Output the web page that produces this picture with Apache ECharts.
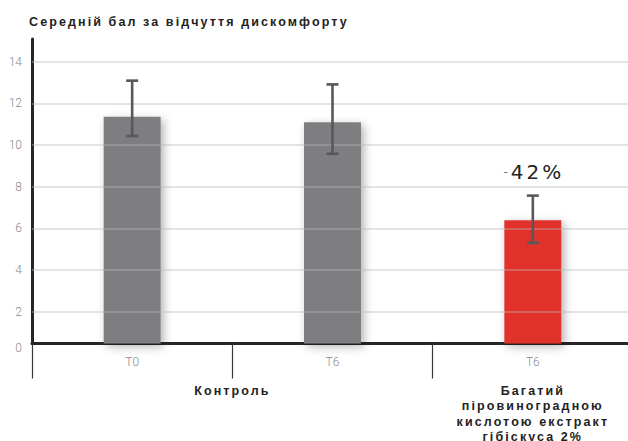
<!DOCTYPE html>
<html>
<head>
<meta charset="utf-8">
<script src="https://cdn.jsdelivr.net/npm/echarts@6/dist/echarts.min.js"></script>
<style>
  html, body { margin: 0; padding: 0; background: #fff; }
  #chart { width: 628px; height: 441px; }
  #chart text[style*="bold"] { letter-spacing: 2.1px; }
  #chart text[style*="20px"] { letter-spacing: 3px; }
</style>
</head>
<body>
<div id="chart"></div>
<script>
// ---- data ----
const titleText = 'Середній бал за відчуття дискомфорту';
const categories = ['T0', 'T6', 'T6'];
const meanValues = [11.36, 11.09, 6.39];
const errLow = [10.43, 9.58, 5.30];
const errHigh = [13.09, 12.91, 7.57];
const barColors = ['#7e7e81', '#7e7e81', '#e0302b'];
const changeLabels = ['', '', '-42%'];
const yTickValues = [2, 4, 6, 8, 10, 12, 14];
const groupNames = ['Контроль', 'Багатий\nпіровиноградною\nкислотою екстракт\nгібіскуса 2%'];
const groupSpans = [[0, 1], [2, 2]]; // category index ranges
const axisBase = 0.47; // where the horizontal axis line sits
const axisTop = 15.09;

const groupCenters = groupSpans.map(s => (s[0] + s[1] + 1) / 2);

const chart = echarts.init(document.getElementById('chart'), null, { renderer: 'svg' });

const option = {
  animation: false,
  backgroundColor: '#fff',
  title: {
    text: titleText,
    left: 29,
    top: 15,
    padding: 0,
    textStyle: { fontFamily: 'Liberation Sans', fontWeight: 'bold', fontSize: 12.5, color: '#222' }
  },
  grid: { left: 32, top: 39, width: 601, bottom: 97.5, containLabel: false, outerBoundsMode: 'none' },
  xAxis: [
    {
      type: 'category',
      data: categories,
      boundaryGap: true,
      axisLine: { show: true, lineStyle: { color: '#262626', width: 3 } },
      axisTick: { show: true, interval: 0, length: 35, lineStyle: { color: '#3a3a3a', width: 1.2 } },
      axisLabel: { interval: 0, margin: 12, color: '#8a8a8a', fontSize: 12, fontFamily: 'Roboto', fontWeight: 300 },
      splitLine: { show: false }
    },
    {
      type: 'value',
      min: 0,
      max: categories.length,
      position: 'bottom',
      axisLine: { show: false },
      axisTick: { show: false },
      splitLine: { show: false },
      axisLabel: {
        customValues: groupCenters,
        margin: 40,
        lineHeight: 15.3,
        color: '#222',
        fontFamily: 'Liberation Sans',
        fontWeight: 'bold',
        fontSize: 12.5,
        formatter: v => {
          const i = groupCenters.indexOf(v);
          return i >= 0 ? groupNames[i] : '';
        }
      }
    }
  ],
  yAxis: {
    type: 'value',
    min: axisBase,
    max: axisTop,
    startValue: axisBase,
    axisLine: { show: true, lineStyle: { color: '#262626', width: 3 } },
    axisTick: { show: false },
    splitLine: { show: false },
    axisLabel: {
      customValues: [axisBase].concat(yTickValues),
      margin: 10,
      color: '#8a8a8a',
      fontSize: 12,
      fontFamily: 'Roboto',
      fontWeight: 300,
      formatter: v => (v < 1 ? '{z|0}' : String(v)),
      rich: { z: { padding: [9, 0, 0, 0], color: '#8a8a8a', fontSize: 12, fontFamily: 'Roboto', fontWeight: 300 } }
    }
  },
  series: [
    {
      type: 'bar',
      xAxisIndex: 0,
      yAxisIndex: 0,
      barWidth: 57,
      clip: true,
      z: 2,
      data: meanValues.map((v, i) => ({
        value: v,
        itemStyle: {
          color: barColors[i],
          shadowBlur: 10,
          shadowColor: 'rgba(0,0,0,0.3)',
          shadowOffsetX: 3,
          shadowOffsetY: 3
        }
      })),
      markLine: {
        silent: true,
        symbol: 'none',
        label: { show: false },
        lineStyle: { color: 'rgba(185,185,185,0.5)', width: 1.5, type: 'solid' },
        data: yTickValues.map(v => ({ yAxis: v }))
      }
    },
    {
      type: 'custom',
      xAxisIndex: 0,
      yAxisIndex: 0,
      z: 10,
      data: categories.map((c, i) => [i, errLow[i], errHigh[i]]),
      encode: { x: 0, y: [1, 2] },
      renderItem: (params, api) => {
        const i = api.value(0);
        const lo = api.coord([i, api.value(1)]);
        const hi = api.coord([i, api.value(2)]);
        const cap = 6;
        const st = { stroke: '#58585a', lineWidth: 2.6 };
        const children = [
          { type: 'line', shape: { x1: hi[0], y1: hi[1], x2: lo[0], y2: lo[1] }, style: st },
          { type: 'line', shape: { x1: hi[0] - cap, y1: hi[1], x2: hi[0] + cap, y2: hi[1] }, style: st },
          { type: 'line', shape: { x1: lo[0] - cap, y1: lo[1], x2: lo[0] + cap, y2: lo[1] }, style: st }
        ];
        const lab = changeLabels[i];
        if (lab) {
          children.push({
            type: 'text',
            x: hi[0] - 25,
            y: hi[1] - 24,
            style: {
              text: lab.charAt(0),
              align: 'right',
              verticalAlign: 'middle',
              fontSize: 13, fill: '#777', fontFamily: 'DejaVu Sans'
            }
          });
          children.push({
            type: 'text',
            x: hi[0] - 22,
            y: hi[1] - 24,
            style: {
              text: lab.slice(1),
              align: 'left',
              verticalAlign: 'middle',
              fontSize: 20, fill: '#222', fontFamily: 'DejaVu Sans'
            }
          });
        }
        return { type: 'group', children };
      }
    }
  ]
};

chart.setOption(option);
</script>
</body>
</html>
